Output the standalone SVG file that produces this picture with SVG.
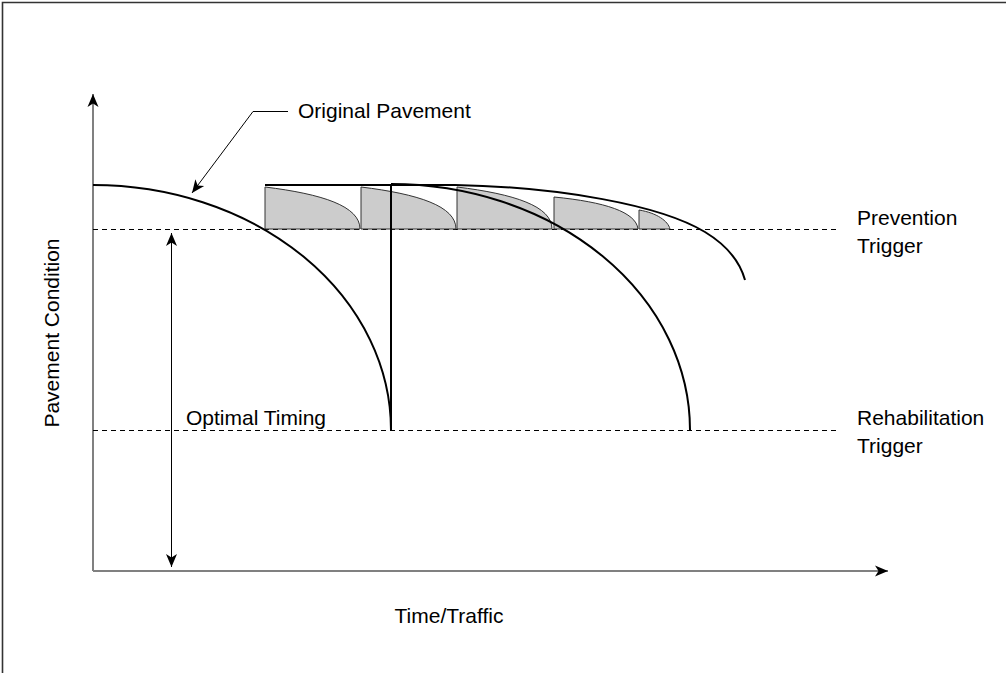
<svg xmlns="http://www.w3.org/2000/svg" width="1006" height="673" viewBox="0 0 1006 673">
  <style>
    .lbl { font-family: "Liberation Sans", Arial, sans-serif; font-size: 21px; fill: #000; }
    .axis { stroke: #808080; stroke-width: 2; fill: none; }
    .curve { stroke: #000; stroke-width: 2; fill: none; }
    .trigger { stroke: #000; stroke-width: 1; stroke-dasharray: 5 4; fill: none; }
    .treat { fill: #cccccc; stroke: #333; stroke-width: 1; }
    .thin { stroke: #000; stroke-width: 1; fill: none; }
  </style>
  <defs>
    <marker id="arrow" markerUnits="userSpaceOnUse" markerWidth="16" markerHeight="14" viewBox="-13 -7 14 14" refX="0" refY="0" orient="auto">
      <path d="M0,0 L-13,-5.5 L-9.5,0 L-13,5.5 Z" fill="#000"/>
    </marker>
    <marker id="arrowStart" markerUnits="userSpaceOnUse" markerWidth="16" markerHeight="14" viewBox="-13 -7 14 14" refX="0" refY="0" orient="auto-start-reverse">
      <path d="M0,0 L-13,-5.5 L-9.5,0 L-13,5.5 Z" fill="#000"/>
    </marker>
  </defs>

  <rect width="1006" height="673" fill="#fff"/>
  <!-- frame: top and left edges -->
  <path d="M2.5,673 L2.5,2.5 L1006,2.5" fill="none" stroke="#333" stroke-width="1.6"/>

  <!-- axes -->
  <g id="axes">
    <path class="axis" d="M93,571 L93,94" marker-end="url(#arrow)"/>
    <path class="axis" d="M93,571 L888,571" marker-end="url(#arrow)"/>
  </g>

  <!-- trigger levels -->
  <g id="triggers">
    <path class="trigger" d="M93,229.5 L838,229.5"/>
    <path class="trigger" d="M93,430.5 L838,430.5"/>
  </g>

  <!-- preventive treatments -->
  <g id="treatments">
    <path class="treat" d="M265,229 L265,187 C322,194 360,206 360,229 Z"/>
    <path class="treat" d="M361,229 L361,187 C418,194 456,206 456,229 Z"/>
    <path class="treat" d="M457,229 L457,187 C514,194 552,206 552,229 Z"/>
    <path class="treat" d="M554,229 L554,197 C605,202 636,212 638,229 Z"/>
    <path class="treat" d="M639,229 L639,210 C657,213 668,221 670,229 Z"/>
  </g>

  <!-- performance curves -->
  <g id="curves">
    <path id="original" class="curve" d="M93,185 A298,245 0 0 1 391,430"/>
    <path id="rehab-line" class="curve" d="M391,184 L391,430"/>
    <path id="after-rehab" class="curve" d="M391,184 A299,246 0 0 1 690,430"/>
    <path id="preserved" class="curve" d="M265,185 L455,185 C560,187 660,205 705,232 C728,246 740,262 745,280"/>
  </g>

  <!-- connectors -->
  <g id="connectors">
    <path class="thin" d="M288,111.5 L253,111.5 L192,193" marker-end="url(#arrow)"/>
    <path class="thin" d="M171.5,233 L171.5,567" marker-start="url(#arrowStart)" marker-end="url(#arrow)"/>
  </g>

  <!-- labels -->
  <g id="labels">
    <text class="lbl" x="298" y="118">Original Pavement</text>
    <text class="lbl" x="857" y="225">Prevention</text>
    <text class="lbl" x="857" y="253">Trigger</text>
    <text class="lbl" x="857" y="425">Rehabilitation</text>
    <text class="lbl" x="857" y="453">Trigger</text>
    <text class="lbl" x="186" y="425">Optimal Timing</text>
    <text class="lbl" x="449" y="623" text-anchor="middle">Time/Traffic</text>
    <text class="lbl" transform="translate(59,333) rotate(-90)" text-anchor="middle">Pavement Condition</text>
  </g>
</svg>
